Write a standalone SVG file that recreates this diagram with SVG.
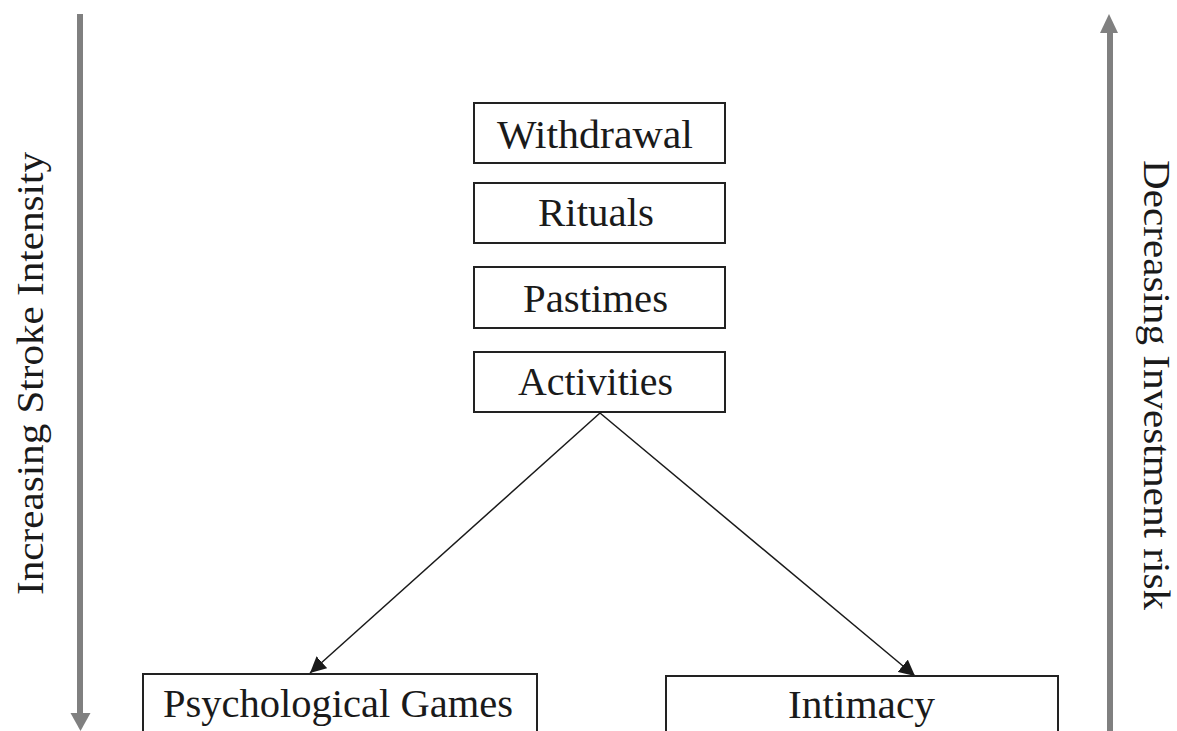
<svg xmlns="http://www.w3.org/2000/svg" width="1177" height="731" viewBox="0 0 1177 731">
<style>
.box{fill:#fff;stroke:#222;stroke-width:2}
.lbl{font-family:"Liberation Serif","DejaVu Serif",serif;font-size:39px;fill:#1a1a1a;text-anchor:middle}
.side{font-family:"Liberation Serif","DejaVu Serif",serif;font-size:38px;fill:#1a1a1a}
.axis{stroke:#808080;stroke-width:6;fill:none}
.axhead{fill:#808080}
.conn{stroke:#1a1a1a;stroke-width:1.5;fill:none}
</style>
<defs>
<marker id="ah" viewBox="0 0 10 10" refX="10" refY="5" markerWidth="16" markerHeight="16" markerUnits="userSpaceOnUse" orient="auto">
<path d="M0,0 L10,5 L0,10 z" fill="#1a1a1a"/>
</marker>
</defs>
<rect width="1177" height="731" fill="#fff"/>
<g id="left-axis">
<line class="axis" x1="80" y1="14" x2="80" y2="714"/>
<polygon class="axhead" points="70.5,713 90.5,713 80.5,731"/>
<text class="side" transform="translate(43,595) rotate(-90)" textLength="443" lengthAdjust="spacingAndGlyphs">Increasing Stroke Intensity</text>
</g>
<g id="right-axis">
<line class="axis" x1="1110" y1="32" x2="1110" y2="740"/>
<polygon class="axhead" points="1100,33 1118,33 1109,14"/>
<text class="side" transform="translate(1144,160) rotate(90)" textLength="450" lengthAdjust="spacingAndGlyphs" style="font-size:37px">Decreasing Investment risk</text>
</g>
<g id="connectors">
<line class="conn" x1="600" y1="413" x2="310" y2="673" marker-end="url(#ah)"/>
<line class="conn" x1="600" y1="413" x2="915" y2="676" marker-end="url(#ah)"/>
</g>
<g id="withdrawal">
<rect class="box" x="474" y="103" width="251" height="60"/>
<text class="lbl" x="595" y="148" textLength="196" lengthAdjust="spacingAndGlyphs">Withdrawal</text>
</g>
<g id="rituals">
<rect class="box" x="474" y="183" width="251" height="60"/>
<text class="lbl" x="596" y="226" textLength="116" lengthAdjust="spacingAndGlyphs">Rituals</text>
</g>
<g id="pastimes">
<rect class="box" x="474" y="267" width="251" height="61"/>
<text class="lbl" x="595.5" y="312" textLength="145" lengthAdjust="spacingAndGlyphs">Pastimes</text>
</g>
<g id="activities">
<rect class="box" x="474" y="352" width="251" height="60"/>
<text class="lbl" x="595.5" y="395" textLength="155" lengthAdjust="spacingAndGlyphs">Activities</text>
</g>
<g id="psychological-games">
<rect class="box" x="143" y="674" width="394" height="70"/>
<text class="lbl" x="338" y="717" textLength="350" lengthAdjust="spacingAndGlyphs">Psychological Games</text>
</g>
<g id="intimacy">
<rect class="box" x="666" y="676" width="392" height="70"/>
<text class="lbl" x="861.5" y="718" textLength="147" lengthAdjust="spacingAndGlyphs">Intimacy</text>
</g>
</svg>
